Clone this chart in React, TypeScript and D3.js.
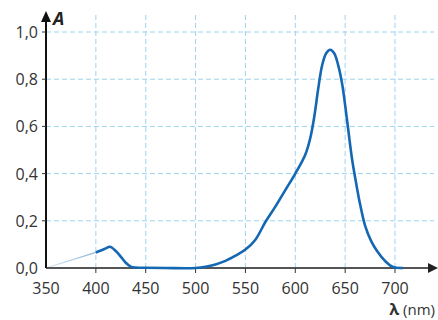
import { useEffect, useRef } from "react";
import * as d3 from "d3";

// absorption spectrum
const wavelengths = [400, 405, 410, 414, 420, 425, 430, 435, 440, 450, 470, 500, 510, 520, 530, 540, 550, 560, 570, 580, 590, 600, 610, 615, 619, 623, 627, 631, 635, 639, 643, 647, 650, 653, 657, 661, 665, 670, 676, 682, 690, 698, 708];
const absorbance = [0.066, 0.074, 0.083, 0.09, 0.072, 0.048, 0.022, 0.006, 0.002, 0.001, 0, 0, 0.005, 0.015, 0.03, 0.052, 0.078, 0.12, 0.195, 0.26, 0.33, 0.4, 0.48, 0.55, 0.64, 0.76, 0.86, 0.91, 0.925, 0.91, 0.86, 0.78, 0.69, 0.59, 0.46, 0.36, 0.27, 0.18, 0.115, 0.072, 0.03, 0.004, 0];
const xTicks = [350, 400, 450, 500, 550, 600, 650, 700];
const yTicks = [0, 0.2, 0.4, 0.6, 0.8, 1.0];

const App = () => {
  const ref = useRef<SVGSVGElement>(null);

  useEffect(() => {
    const W = 438, H = 320;
    const svg = d3.select(ref.current);
    svg.selectAll("*").remove();

    const x = d3.scaleLinear().domain([350, 700]).range([46, 395]);
    const y = d3.scaleLinear().domain([0, 1]).range([268, 32]);
    const font = "'Open Sans', 'DejaVu Sans', sans-serif";
    const grid = "#9dd3ee";

    // grid
    const g = svg.append("g");
    g.selectAll("line.v")
      .data(xTicks.slice(1))
      .enter()
      .append("line")
      .attr("x1", (d) => x(d)).attr("x2", (d) => x(d))
      .attr("y1", y(0)).attr("y2", 12)
      .attr("stroke", grid).attr("stroke-width", 1).attr("stroke-dasharray", "5,3");
    g.selectAll("line.h")
      .data(yTicks.slice(1))
      .enter()
      .append("line")
      .attr("x1", x(350)).attr("x2", 434)
      .attr("y1", (d) => y(d)).attr("y2", (d) => y(d))
      .attr("stroke", grid).attr("stroke-width", 1).attr("stroke-dasharray", "5,3");

    // faint extrapolation to 350
    const defs = svg.append("defs");
    const grad = defs.append("linearGradient").attr("id", "fade")
      .attr("gradientUnits", "userSpaceOnUse")
      .attr("x1", x(350)).attr("x2", x(400)).attr("y1", 0).attr("y2", 0);
    grad.append("stop").attr("offset", 0).attr("stop-color", "#dde8f0");
    grad.append("stop").attr("offset", 1).attr("stop-color", "#8ab4d6");
    svg.append("line")
      .attr("x1", x(350)).attr("y1", y(0))
      .attr("x2", x(400)).attr("y2", y(absorbance[0]))
      .attr("stroke", "url(#fade)").attr("stroke-width", 1.2);

    // x axis
    svg.append("line")
      .attr("x1", x(350)).attr("x2", 430)
      .attr("y1", y(0)).attr("y2", y(0))
      .attr("stroke", "#555").attr("stroke-width", 2);
    svg.append("path")
      .attr("d", `M438,${y(0)} L428,${y(0) - 5} L428,${y(0) + 5} Z`)
      .attr("fill", "#222");
    svg.selectAll("line.xt")
      .data(xTicks.slice(1))
      .enter()
      .append("line")
      .attr("x1", (d) => x(d)).attr("x2", (d) => x(d))
      .attr("y1", y(0)).attr("y2", y(0) + 5)
      .attr("stroke", "#333").attr("stroke-width", 1);
    svg.selectAll("text.xl")
      .data(xTicks)
      .enter()
      .append("text")
      .attr("x", (d) => x(d)).attr("y", 294)
      .attr("text-anchor", "middle")
      .attr("font-family", font).attr("font-size", 16).attr("fill", "#333")
      .text((d) => d);
    const xl = svg.append("text")
      .attr("x", 435).attr("y", 315)
      .attr("text-anchor", "end")
      .attr("font-family", font).attr("font-size", 15).attr("fill", "#333");
    xl.append("tspan").attr("font-weight", "bold").attr("font-size", 16).text("λ");
    xl.append("tspan").text(" (nm)");

    // y axis
    svg.append("line")
      .attr("x1", x(350)).attr("x2", x(350))
      .attr("y1", y(0)).attr("y2", 20)
      .attr("stroke", "#111").attr("stroke-width", 2);
    svg.append("path")
      .attr("d", `M${x(350)},11 L${x(350) - 5},22 L${x(350) + 5},22 Z`)
      .attr("fill", "#111");
    svg.selectAll("line.yt")
      .data(yTicks.slice(1))
      .enter()
      .append("line")
      .attr("x1", x(350) - 4).attr("x2", x(350))
      .attr("y1", (d) => y(d)).attr("y2", (d) => y(d))
      .attr("stroke", "#333").attr("stroke-width", 1);
    svg.selectAll("text.yl")
      .data(yTicks)
      .enter()
      .append("text")
      .attr("x", 38).attr("y", (d) => y(d) + 6)
      .attr("text-anchor", "end")
      .attr("font-family", font).attr("font-size", 16).attr("fill", "#333")
      .text((d) => d3.format(".1f")(d).replace(".", ","));
    svg.append("text")
      .attr("x", 53).attr("y", 25)
      .attr("font-family", font).attr("font-size", 18)
      .attr("font-weight", "bold").attr("font-style", "italic").attr("fill", "#222")
      .text("A");

    // spectrum
    const line = d3.line<number>()
      .x((d, i) => x(wavelengths[i]))
      .y((d) => y(d))
      .curve(d3.curveCatmullRom.alpha(0.5));
    svg.append("path")
      .attr("d", line(absorbance))
      .attr("fill", "none")
      .attr("stroke", "#1468b3")
      .attr("stroke-width", 2.6)
      .attr("stroke-linejoin", "round");

    svg.attr("width", W).attr("height", H);
  }, []);

  return (
    <svg
      ref={ref}
      width={438}
      height={320}
      style={{ position: "fixed", left: 0, top: 0, background: "#fff" }}
    />
  );
};

export default App;
